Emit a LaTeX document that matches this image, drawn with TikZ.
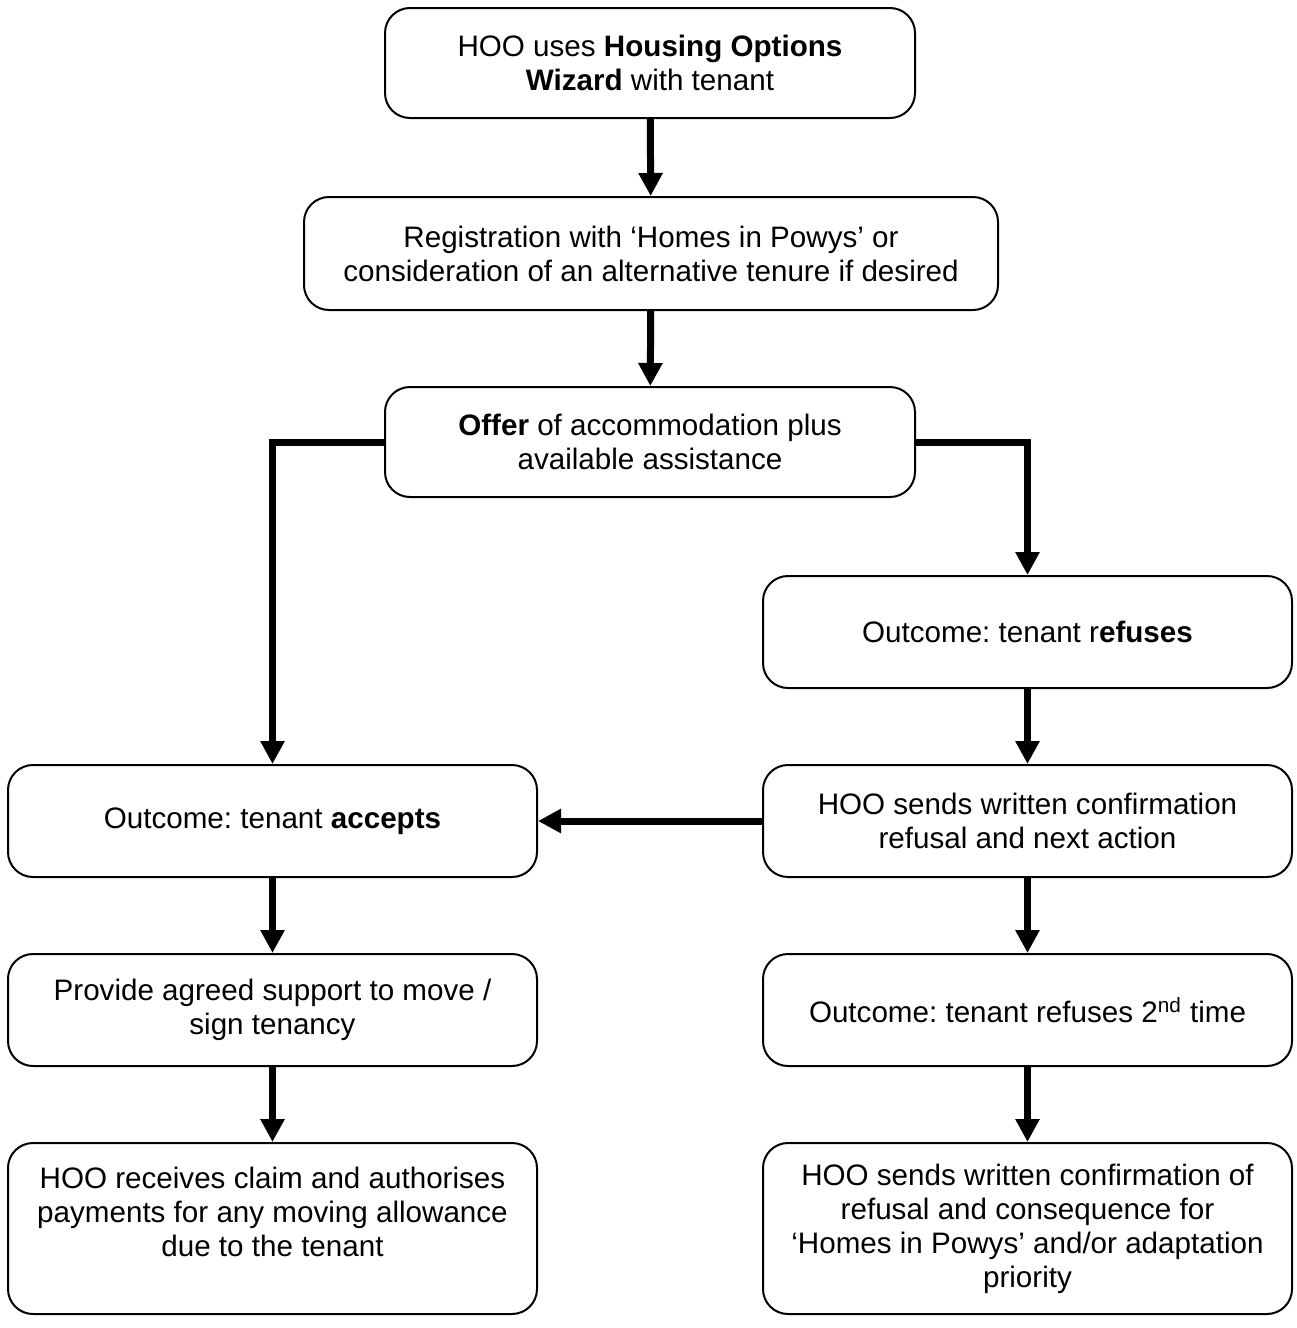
\documentclass[tikz,border=0pt]{standalone}
\usepackage{fontspec}
\setmainfont{Liberation Sans}
\usetikzlibrary{arrows.meta}
\frenchspacing
\begin{document}
\begin{tikzpicture}[x=0.5pt,y=-0.5pt,
  box/.style={draw, line width=1pt, rounded corners=12.5pt, align=center, inner sep=0pt,
    font=\fontsize{14.8pt}{17pt}\selectfont},
  narrow/.style={box, minimum width=264.5pt, minimum height=56pt},
  conn/.style={line width=3.5pt, -{Triangle[width=11.5pt,length=11.5pt]}}
]
\useasboundingbox (0,0) rectangle (1296,1328);
\node[box, minimum width=265pt, minimum height=55pt] (b1) at (650,63)
  {HOO uses \textbf{Housing Options}\\\textbf{Wizard} with tenant};
\node[box, minimum width=347pt, minimum height=56.5pt] (b2) at (651,253.5)
  {Registration with ‘Homes in Powys’ or\\consideration of an alternative tenure if desired};
\node[box, minimum width=265pt, minimum height=55pt] (b3) at (650,442)
  {\textbf{Offer} of accommodation plus\\available assistance};
\node[narrow] (b4) at (1027.5,632) {Outcome: tenant r\textbf{efuses}};
\node[narrow] (b5) at (272.5,821) {Outcome: tenant \textbf{accepts}};
\node[narrow] (b6) at (1027.5,821) {HOO sends written confirmation\\refusal and next action};
\node[narrow] (b7) at (272.5,1010) {Provide agreed support to move /\\sign tenancy};
\node[narrow] (b8) at (1027.5,1010) {Outcome: tenant refuses 2\textsuperscript{nd} time};
\node[narrow, minimum height=85.5pt] (b9) at (272.5,1228.5)
  {HOO receives claim and authorises\\payments for any moving allowance\\due to the tenant\\~};
\node[narrow, minimum height=85.5pt] (b10) at (1027.5,1228.5)
  {HOO sends written confirmation of\\refusal and consequence for\\‘Homes in Powys’ and/or adaptation\\priority};
\draw[conn] (b1) -- (b2);
\draw[conn] (b2) -- (b3);
\draw[conn] (b3.west) -| (b5.north);
\draw[conn] (b3.east) -| (b4.north);
\draw[conn] (b4) -- (b6);
\draw[conn] (b6) -- (b5);
\draw[conn] (b5) -- (b7);
\draw[conn] (b7) -- (b9);
\draw[conn] (b6) -- (b8);
\draw[conn] (b8) -- (b10);
\end{tikzpicture}
\end{document}
